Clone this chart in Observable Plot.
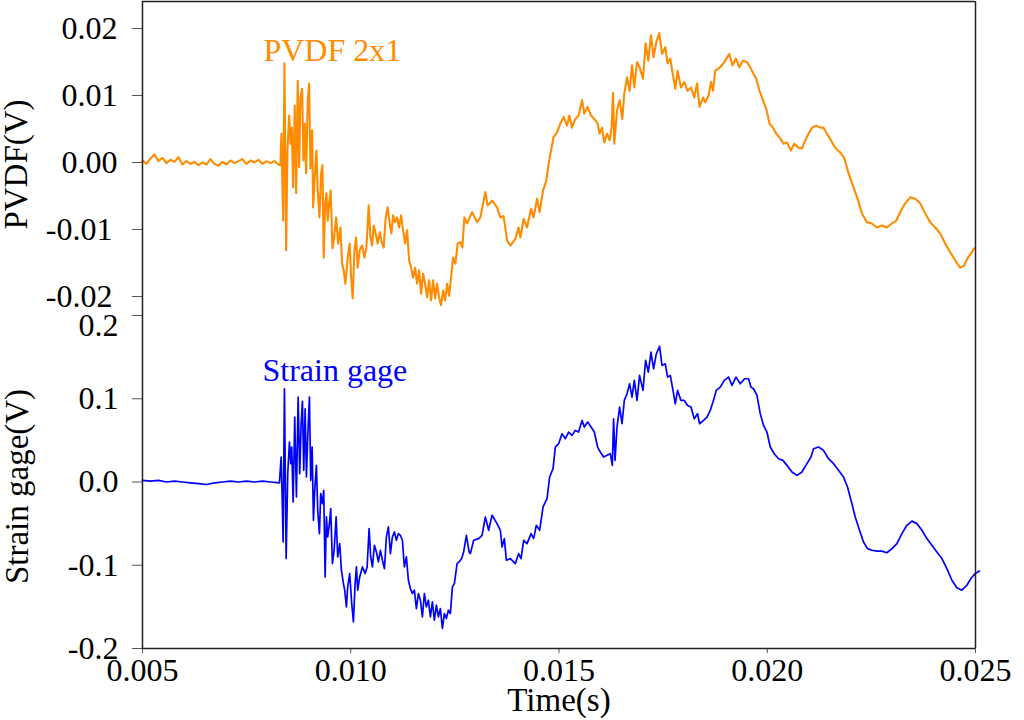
<!DOCTYPE html>
<html><head><meta charset="utf-8">
<script src="https://cdn.jsdelivr.net/npm/d3@7"></script>
<script src="https://cdn.jsdelivr.net/npm/@observablehq/plot@0.6"></script>
<style>
html,body{margin:0;padding:0;background:#fff;}
#chart{position:relative;width:1024px;height:720px;overflow:hidden;background:#fff;}
#chart svg{position:absolute;left:0;overflow:visible;font-family:'Liberation Serif','Times New Roman',serif;}
#chart svg text{font-family:'Liberation Serif','Times New Roman',serif;}
</style></head><body><div id="chart"></div>
<script>
// ---- data ----
const timeTicks = [0.005, 0.010, 0.015, 0.020, 0.025];
const pvdfTicks = [-0.02, -0.01, 0.00, 0.01, 0.02];
const gageTicks = [-0.2, -0.1, 0.0, 0.1, 0.2];
const seriesNames = ["PVDF 2x1", "Strain gage"];
const axisTitles = ["PVDF(V)", "Strain gage(V)", "Time(s)"];

const pvdfTime = [
0.005000,0.005096,0.005192,0.005288,0.005384,0.005480,0.005576,0.005672,0.005768,0.005864,
0.005960,0.006056,0.006152,0.006248,0.006344,0.006440,0.006536,0.006632,0.006728,0.006824,
0.006920,0.007016,0.007112,0.007208,0.007304,0.007400,0.007496,0.007592,0.007688,0.007784,
0.007880,0.007976,0.008072,0.008168,0.008264,
0.008312,0.008336,0.008360,0.008377,0.008408,0.008449,0.008480,0.008521,0.008552,0.008583,
0.008617,0.008655,0.008689,0.008727,0.008761,0.008792,0.008833,0.008864,0.008895,0.008929,
0.008967,0.009001,0.009032,0.009073,0.009097,0.009135,0.009176,0.009207,0.009248,0.009289,
0.009320,0.009351,0.009385,0.009416,0.009447,0.009488,0.009519,0.009560,0.009601,0.009649,
0.009697,0.009752,0.009793,0.009831,0.009872,0.009927,0.009975,0.010009,0.010047,0.010088,
0.010129,0.010167,0.010215,0.010273,0.010328,0.010376,0.010431,0.010472,0.010513,0.010551,
0.010599,0.010647,0.010695,0.010743,0.010791,0.010839,0.010887,0.010935,0.010976,0.011017,
0.011065,0.011113,0.011161,0.011209,0.011257,0.011305,0.011353,0.011401,0.011449,0.011497,
0.011545,0.011593,0.011641,0.011689,0.011737,0.011785,0.011833,0.011881,0.011929,0.011977,
0.012025,0.012073,0.012121,0.012169,0.012217,0.012265,0.012313,0.012361,0.012409,0.012457,
0.012512,0.012567,0.012632,0.012680,0.012728,0.012793,0.012913,0.013033,0.013112,0.013232,
0.013287,0.013393,0.013513,0.013592,0.013670,0.013753,0.013832,0.013952,0.014031,0.014072,
0.014151,0.014233,0.014329,0.014391,0.014473,0.014535,0.014617,0.014696,0.014751,0.014809,
0.014871,0.014953,0.015032,0.015111,0.015193,0.015248,0.015313,0.015392,0.015471,0.015553,
0.015608,0.015687,0.015769,0.015848,0.015927,0.015975,0.016033,0.016088,0.016153,0.016215,
0.016263,0.016297,0.016328,0.016393,0.016455,0.016520,0.016568,0.016633,0.016695,0.016753,
0.016808,0.016873,0.016935,0.017017,0.017079,0.017144,0.017209,0.017271,0.017336,0.017408,
0.017473,0.017552,0.017607,0.017672,0.017737,0.017792,0.017847,0.017929,0.018008,0.018087,
0.018169,0.018248,0.018313,0.018375,0.018457,0.018512,0.018591,0.018649,0.018697,0.018752,
0.018831,0.018913,0.018992,0.019088,0.019167,0.019249,0.019328,0.019417,0.019513,0.019592,
0.019657,0.019736,0.019815,0.019897,0.019976,0.020055,0.020137,0.020216,0.020312,0.020391,
0.020473,0.020569,0.020648,0.020751,0.020833,0.020912,0.020991,0.021073,0.021176,0.021272,
0.021351,0.021433,0.021529,0.021632,0.021752,0.021848,0.021951,0.022071,0.022167,0.022273,
0.022393,0.022513,0.022633,0.022753,0.022873,0.022993,0.023096,0.023192,0.023312,0.023432,
0.023552,0.023672,0.023792,0.023912,0.024032,0.024152,0.024272,0.024392,0.024512,0.024632,
0.024728,0.024807,0.024889,0.024968
];
const pvdfVolt = [
0.0003,-0.0002,0.0006,0.0012,0.0002,0.0007,-0.0001,0.0004,0.0001,0.0008,
-0.0003,0.0002,-0.0002,0.0001,-0.0004,0.0000,-0.0003,0.0005,-0.0002,-0.0005,
0.0001,-0.0003,0.0003,-0.0001,0.0002,0.0005,-0.0002,0.0003,0.0000,0.0004,
-0.0002,0.0002,-0.0001,0.0002,-0.0003,
-0.0004,0.0043,-0.0037,-0.0087,0.0148,-0.0131,0.0018,0.0070,0.0028,0.0052,
-0.0037,0.0085,-0.0046,0.0122,-0.0007,0.0097,0.0110,0.0003,0.0058,-0.0016,
0.0093,0.0118,-0.0009,0.0048,-0.0067,-0.0022,0.0018,-0.0042,-0.0082,-0.0016,
-0.0004,-0.0142,-0.0061,-0.0046,-0.0087,-0.0057,-0.0042,-0.0128,-0.0112,-0.0082,
-0.0121,-0.0097,-0.0151,-0.0161,-0.0181,-0.0142,-0.0121,-0.0172,-0.0203,-0.0131,
-0.0112,-0.0157,-0.0131,-0.0124,-0.0142,-0.0127,-0.0064,-0.0112,-0.0124,-0.0094,
-0.0106,-0.0121,-0.0104,-0.0119,-0.0127,-0.0082,-0.0067,-0.0091,-0.0106,-0.0079,
-0.0089,-0.0082,-0.0097,-0.0079,-0.0101,-0.0121,-0.0101,-0.0146,-0.0157,-0.0172,
-0.0157,-0.0181,-0.0161,-0.0196,-0.0166,-0.0181,-0.0201,-0.0176,-0.0206,-0.0176,
-0.0203,-0.0181,-0.0201,-0.0213,-0.0191,-0.0206,-0.0181,-0.0199,-0.0172,-0.0142,
-0.0151,-0.0121,-0.0119,-0.0127,-0.0082,-0.0091,-0.0074,-0.0089,-0.0082,-0.0044,
-0.0064,-0.0057,-0.0067,-0.0082,-0.0080,-0.0116,-0.0124,-0.0114,-0.0097,-0.0112,
-0.0084,-0.0097,-0.0069,-0.0082,-0.0054,-0.0074,-0.0042,-0.0027,-0.0002,0.0018,
0.0038,0.0045,0.0058,0.0068,0.0055,0.0070,0.0052,0.0065,0.0070,0.0093,
0.0073,0.0083,0.0070,0.0065,0.0058,0.0043,0.0052,0.0030,0.0043,0.0033,
0.0052,0.0104,0.0028,0.0078,0.0093,0.0065,0.0103,0.0127,0.0107,0.0145,
0.0112,0.0150,0.0142,0.0125,0.0178,0.0152,0.0190,0.0157,0.0180,0.0193,
0.0162,0.0172,0.0148,0.0155,0.0130,0.0110,0.0137,0.0112,0.0120,0.0107,
0.0112,0.0097,0.0118,0.0083,0.0097,0.0090,0.0100,0.0120,0.0107,0.0137,
0.0140,0.0145,0.0152,0.0162,0.0145,0.0155,0.0142,0.0152,0.0150,0.0142,
0.0134,0.0125,0.0107,0.0093,0.0080,0.0058,0.0052,0.0043,0.0036,0.0028,
0.0030,0.0018,0.0028,0.0022,0.0021,0.0033,0.0043,0.0052,0.0055,0.0052,
0.0052,0.0043,0.0033,0.0022,0.0015,0.0007,-0.0016,-0.0037,-0.0054,-0.0076,
-0.0089,-0.0091,-0.0097,-0.0094,-0.0097,-0.0091,-0.0087,-0.0074,-0.0061,-0.0052,
-0.0054,-0.0061,-0.0076,-0.0089,-0.0097,-0.0106,-0.0121,-0.0134,-0.0146,-0.0157,
-0.0154,-0.0143,-0.0136,-0.0128
];

const gageTime = [
0.005000,0.005192,0.005384,0.005576,0.005768,0.005960,0.006152,0.006344,0.006536,0.006728,
0.006920,0.007112,0.007304,0.007496,0.007688,0.007880,0.008072,0.008288,
0.008329,0.008353,0.008377,0.008408,0.008449,0.008487,0.008528,0.008559,0.008583,0.008617,
0.008655,0.008696,0.008737,0.008775,0.008809,0.008840,0.008871,0.008905,0.008936,0.008967,
0.009008,0.009039,0.009073,0.009104,0.009135,0.009176,0.009207,0.009248,0.009279,0.009320,
0.009351,0.009385,0.009416,0.009447,0.009488,0.009519,0.009560,0.009601,0.009649,0.009687,
0.009735,0.009776,0.009824,0.009855,0.009896,0.009927,0.009975,0.010023,0.010064,0.010105,
0.010136,0.010167,0.010215,0.010280,0.010345,0.010393,0.010441,0.010479,0.010520,0.010568,
0.010616,0.010664,0.010712,0.010760,0.010808,0.010856,0.010904,0.010952,0.011000,0.011048,
0.011096,0.011144,0.011192,0.011240,0.011288,0.011336,0.011384,0.011432,0.011480,0.011528,
0.011576,0.011624,0.011672,0.011720,0.011768,0.011816,0.011864,0.011912,0.011960,0.012008,
0.012056,0.012104,0.012152,0.012200,0.012248,0.012296,0.012344,0.012392,0.012440,0.012488,
0.012553,0.012601,0.012663,0.012711,0.012776,0.012841,0.012872,0.012951,0.013071,0.013153,
0.013232,0.013311,0.013393,0.013513,0.013592,0.013633,0.013688,0.013736,0.013832,0.013952,
0.014031,0.014089,0.014151,0.014233,0.014329,0.014391,0.014456,0.014535,0.014617,0.014713,
0.014775,0.014857,0.014912,0.014991,0.015073,0.015152,0.015231,0.015313,0.015392,0.015471,
0.015553,0.015608,0.015687,0.015769,0.015848,0.015927,0.015992,0.016071,0.016153,0.016232,
0.016280,0.016311,0.016345,0.016393,0.016455,0.016513,0.016568,0.016633,0.016695,0.016753,
0.016808,0.016873,0.016935,0.017017,0.017079,0.017144,0.017209,0.017271,0.017336,0.017415,
0.017473,0.017552,0.017607,0.017672,0.017737,0.017792,0.017847,0.017929,0.018008,0.018087,
0.018169,0.018248,0.018327,0.018375,0.018471,0.018553,0.018632,0.018697,0.018776,0.018872,
0.018968,0.019071,0.019153,0.019249,0.019352,0.019455,0.019551,0.019609,0.019671,0.019753,
0.019832,0.019911,0.019993,0.020072,0.020168,0.020271,0.020377,0.020473,0.020593,0.020713,
0.020833,0.020953,0.021049,0.021111,0.021231,0.021351,0.021471,0.021591,0.021711,0.021831,
0.021927,0.022033,0.022112,0.022215,0.022311,0.022407,0.022513,0.022633,0.022753,0.022873,
0.022993,0.023113,0.023233,0.023353,0.023473,0.023593,0.023713,0.023833,0.023953,0.024073,
0.024193,0.024313,0.024433,0.024553,0.024673,0.024793,0.024889,0.024992,0.025095
];
const gageVolt = [
0.002,0.001,0.002,0.000,0.001,0.000,-0.001,-0.002,-0.003,-0.001,
0.000,0.001,0.000,0.001,0.000,0.001,0.000,-0.001,
0.030,-0.018,-0.072,0.112,-0.092,0.010,0.048,0.022,0.042,-0.024,
0.078,-0.018,0.102,0.010,0.070,0.097,0.014,0.088,0.006,0.054,
0.102,0.002,0.042,-0.046,-0.010,0.020,-0.034,-0.062,-0.014,-0.026,
-0.010,-0.114,-0.042,-0.066,-0.050,-0.032,-0.098,-0.082,-0.042,-0.090,
-0.074,-0.106,-0.122,-0.130,-0.150,-0.126,-0.110,-0.146,-0.168,-0.122,
-0.102,-0.130,-0.114,-0.102,-0.110,-0.102,-0.056,-0.090,-0.102,-0.076,
-0.084,-0.096,-0.082,-0.094,-0.104,-0.066,-0.054,-0.086,-0.066,-0.060,
-0.070,-0.062,-0.064,-0.070,-0.102,-0.090,-0.118,-0.128,-0.134,-0.130,
-0.152,-0.134,-0.142,-0.162,-0.134,-0.150,-0.142,-0.162,-0.144,-0.166,
-0.148,-0.162,-0.152,-0.176,-0.158,-0.164,-0.154,-0.158,-0.126,-0.122,
-0.098,-0.096,-0.092,-0.084,-0.064,-0.084,-0.086,-0.070,-0.068,-0.064,
-0.042,-0.058,-0.040,-0.050,-0.058,-0.078,-0.068,-0.094,-0.092,-0.098,
-0.086,-0.092,-0.070,-0.074,-0.062,-0.068,-0.052,-0.058,-0.030,-0.020,
0.006,0.016,0.042,0.046,0.058,0.052,0.060,0.056,0.062,0.060,
0.074,0.066,0.072,0.066,0.060,0.042,0.036,0.030,0.032,0.034,
0.020,0.076,0.026,0.066,0.090,0.070,0.098,0.106,0.118,0.102,
0.122,0.098,0.128,0.110,0.146,0.132,0.156,0.136,0.154,0.163,
0.140,0.142,0.126,0.128,0.110,0.094,0.110,0.098,0.098,0.092,
0.090,0.076,0.082,0.070,0.074,0.078,0.086,0.096,0.110,0.114,
0.122,0.126,0.116,0.126,0.118,0.124,0.124,0.114,0.112,0.104,
0.082,0.068,0.060,0.042,0.034,0.028,0.026,0.020,0.012,0.008,
0.012,0.022,0.030,0.040,0.042,0.038,0.028,0.022,0.014,0.006,
-0.006,-0.026,-0.042,-0.058,-0.072,-0.080,-0.082,-0.083,-0.083,-0.085,
-0.080,-0.074,-0.062,-0.052,-0.047,-0.050,-0.058,-0.068,-0.076,-0.084,
-0.092,-0.104,-0.118,-0.127,-0.130,-0.124,-0.116,-0.110,-0.107
];

// ---- styling ----
const font = "'Liberation Serif','Times New Roman',serif";
const orange = "#ff8c00";
const blue = "#0000ff";
const frameColor = "#222";
const tickColor = "#555";
const xDomain = [timeTicks[0], timeTicks[timeTicks.length - 1]];
const pvdfDomain = [-0.02284, 0.02403];
const gageDomain = [gageTicks[0], gageTicks[gageTicks.length - 1]];
const textOpts = {fontSize: 32, fontFamily: font, fill: "#000", label: null};
const tickOpts = {stroke: tickColor, strokeWidth: 1, tickFormat: () => "", label: null};

const topChart = Plot.plot({
  width: 1024, height: 315,
  marginLeft: 142, marginRight: 49, marginTop: 1, marginBottom: 0,
  style: {fontFamily: font, background: "transparent", overflow: "visible"},
  x: {domain: xDomain, axis: null},
  y: {domain: pvdfDomain, axis: null},
  marks: [
    Plot.axisY(pvdfTicks, {anchor: "left", tickSize: 10, ...tickOpts}),
    Plot.axisY(pvdfTicks.filter(d => d >= 0), {anchor: "left", tickSize: 0, tickPadding: 25,
      tickFormat: d => d.toFixed(2), ...textOpts}),
    Plot.axisY(pvdfTicks.filter(d => d < 0), {anchor: "left", tickSize: 0, tickPadding: 30,
      tickFormat: d => d.toFixed(2), ...textOpts}),
    Plot.line(pvdfVolt, {x: pvdfTime, y: pvdfVolt, stroke: orange, strokeWidth: 2.1}),
    Plot.ruleX(xDomain, {stroke: frameColor, strokeWidth: 1.5}),
    Plot.ruleY([pvdfDomain[1]], {stroke: frameColor, strokeWidth: 1.5}),
    Plot.text([seriesNames[0]], {text: d => d, x: [0.007904], y: [0.01522], textAnchor: "start",
      lineAnchor: "bottom", fill: orange, fontSize: 32, fontFamily: font}),
    Plot.text([axisTitles[0]], {text: d => d, frameAnchor: "left", textAnchor: "middle", lineAnchor: "middle",
      rotate: -90, dx: -126, dy: 6, fontSize: 33, fontFamily: font, fill: "#000"})
  ]
});

const bottomChart = Plot.plot({
  width: 1024, height: 405,
  marginLeft: 142, marginRight: 49, marginTop: 0, marginBottom: 72,
  style: {fontFamily: font, background: "transparent", overflow: "visible"},
  x: {domain: xDomain, axis: null},
  y: {domain: gageDomain, axis: null},
  marks: [
    Plot.axisY(gageTicks, {anchor: "left", tickSize: 10, ...tickOpts}),
    Plot.axisY(gageTicks.filter(d => d < 0.15), {anchor: "left", tickSize: 0, tickPadding: 24,
      tickFormat: d => d.toFixed(1), ...textOpts}),
    Plot.axisY(gageTicks.filter(d => d > 0.15), {anchor: "left", tickSize: 0, tickPadding: 24, dy: 10,
      tickFormat: d => d.toFixed(1), ...textOpts}),
    Plot.axisX(timeTicks, {anchor: "bottom", tickSize: 5, ...tickOpts}),
    Plot.axisX(timeTicks, {anchor: "bottom", tickSize: 0, tickPadding: 10,
      tickFormat: d => d.toFixed(3), ...textOpts}),
    Plot.line(gageVolt, {x: gageTime, y: gageVolt, stroke: blue, strokeWidth: 1.7}),
    Plot.ruleX(xDomain, {stroke: frameColor, strokeWidth: 1.5}),
    Plot.ruleY([gageDomain[0]], {stroke: frameColor, strokeWidth: 1.5}),
    Plot.text([seriesNames[1]], {text: d => d, x: [0.00788], y: [0.1219], textAnchor: "start",
      lineAnchor: "bottom", fill: blue, fontSize: 32, fontFamily: font}),
    Plot.text([axisTitles[1]], {text: d => d, frameAnchor: "left", textAnchor: "middle", lineAnchor: "middle",
      rotate: -90, dx: -125, dy: 4.5, fontSize: 33, fontFamily: font, fill: "#000"}),
    Plot.text([axisTitles[2]], {text: d => d, frameAnchor: "bottom", textAnchor: "middle", dy: 62,
      lineAnchor: "bottom", fontSize: 33, fontFamily: font, fill: "#000"})
  ]
});

const chart = document.getElementById("chart");
topChart.style.top = "0px";
bottomChart.style.top = "315px";
chart.appendChild(topChart);
chart.appendChild(bottomChart);
</script>
</body></html>
